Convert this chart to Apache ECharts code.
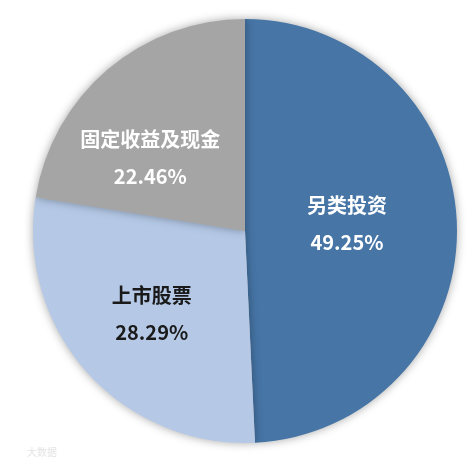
<!DOCTYPE html>
<html>
<head>
<meta charset="utf-8">
<script src="https://cdn.jsdelivr.net/npm/echarts@6/dist/echarts.min.js"></script>
<style>
  html, body { margin: 0; padding: 0; background: #fff; }
</style>
</head>
<body>
<div id="myChart" style="width: 475px; height: 464px;"></div>
<script>
var names = ['另类投资', '上市股票', '固定收益及现金'];
var values = [49.25, 28.29, 22.46];
var colors = ['#4675a6', '#b5c9e7', '#a5a5a5'];
var labelColors = ['#ffffff', '#1a1a1a', '#ffffff'];
// 标签微调
var labelOffsets = [[-7, -5], [-12, 10], [-24, 10]];

var data = [];
for (var i = 0; i < names.length; i++) {
  data.push({
    name: names[i],
    value: values[i],
    itemStyle: { color: colors[i] },
    label: { color: labelColors[i], offset: labelOffsets[i] }
  });
}

var option = {
  animation: false,
  graphic: [{
    type: 'text',
    left: 27,
    top: 447,
    style: { text: '大数据', fill: '#e4e4e4', font: '10px "Noto Sans CJK SC"' }
  }],
  series: [{
    type: 'pie',
    center: [245, 231],
    radius: 212,
    startAngle: 90,
    clockwise: true,
    data: data,
    itemStyle: {
      borderWidth: 0,
      shadowBlur: 10,
      shadowColor: 'rgba(0, 0, 0, 0.35)'
    },
    label: {
      position: 'inside',
      formatter: function (p) { return p.name + '\n' + p.value.toFixed(2) + '%'; },
      fontFamily: 'Noto Sans CJK SC',
      fontSize: 20,
      fontWeight: 'bold',
      lineHeight: 37
    },
    labelLine: { show: false },
    emphasis: { disabled: true }
  }]
};

var myChart = echarts.init(document.getElementById('myChart'));
myChart.setOption(option);
</script>
</body>
</html>
